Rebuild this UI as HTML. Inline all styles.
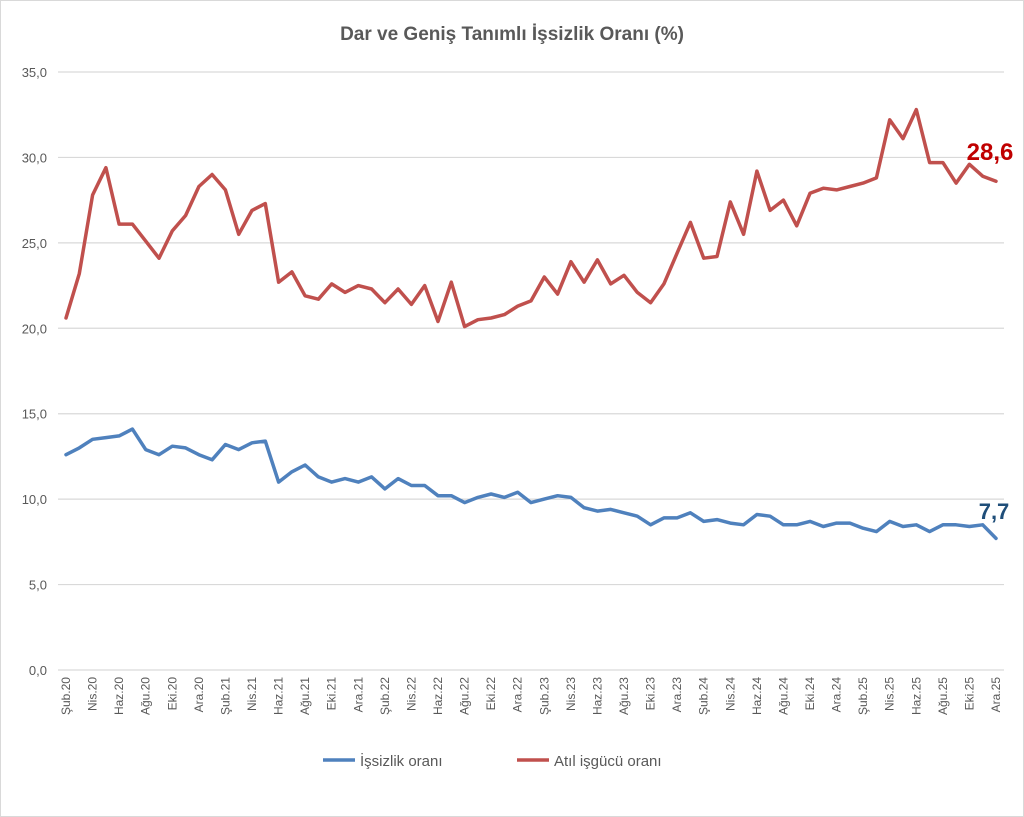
<!DOCTYPE html>
<html><head><meta charset="utf-8"><style>
body{margin:0;background:#fff;}
svg{display:block;font-family:"Liberation Sans",sans-serif;}
</style></head><body>
<svg id="c" width="1024" height="817" viewBox="0 0 1024 817" xmlns="http://www.w3.org/2000/svg">
<rect x="0.5" y="0.5" width="1023" height="816" fill="#fff" stroke="#d9d9d9"/>
<text x="512" y="40" text-anchor="middle" font-size="19" font-weight="bold" fill="#595959">Dar ve Geniş Tanımlı İşsizlik Oranı (%)</text>
<g id="grid"></g>
<g id="lab"></g>
<polyline id="red" fill="none" stroke="#c0504d" stroke-width="3.5" stroke-linejoin="round" stroke-linecap="round"/>
<polyline id="blue" fill="none" stroke="#4f81bd" stroke-width="3.5" stroke-linejoin="round" stroke-linecap="round"/>
<text x="990" y="160" text-anchor="middle" font-size="24" font-weight="bold" fill="#c00000">28,6</text>
<text x="994" y="519" text-anchor="middle" font-size="22" font-weight="bold" fill="#1f4e79">7,7</text>
<line x1="323" y1="760" x2="355" y2="760" stroke="#4f81bd" stroke-width="3.5"/>
<text x="360" y="766" font-size="15" fill="#595959">İşsizlik oranı</text>
<line x1="517" y1="760" x2="549" y2="760" stroke="#c0504d" stroke-width="3.5"/>
<text x="554" y="766" font-size="15" fill="#595959">Atıl işgücü oranı</text>
</svg>
<script>
var red=[20.6,23.2,27.8,29.4,26.1,26.1,25.1,24.1,25.7,26.6,28.3,
29.0,28.1,25.5,26.9,27.3,22.7,23.3,21.9,21.7,22.6,22.1,22.5,
22.3,21.5,22.3,21.4,22.5,20.4,22.7,20.1,20.5,20.6,20.8,21.3,
21.6,23.0,22.0,23.9,22.7,24.0,22.6,23.1,22.1,21.5,22.6,24.4,
26.2,24.1,24.2,27.4,25.5,29.2,26.9,27.5,26.0,27.9,28.2,28.1,
28.3,28.5,28.8,32.2,31.1,32.8,29.7,29.7,28.5,29.6,28.9,28.6];
var blue=[12.6,13.0,13.5,13.6,13.7,14.1,12.9,12.6,13.1,13.0,12.6,
12.3,13.2,12.9,13.3,13.4,11.0,11.6,12.0,11.3,11.0,11.2,11.0,
11.3,10.6,11.2,10.8,10.8,10.2,10.2,9.8,10.1,10.3,10.1,10.4,
9.8,10.0,10.2,10.1,9.5,9.3,9.4,9.2,9.0,8.5,8.9,8.9,
9.2,8.7,8.8,8.6,8.5,9.1,9.0,8.5,8.5,8.7,8.4,8.6,
8.6,8.3,8.1,8.7,8.4,8.5,8.1,8.5,8.5,8.4,8.5,7.7];
var x0=66,dx=(996-66)/70,y0=670,ys=(670-72)/35;
function X(i){return x0+i*dx}function Y(v){return y0-v*ys}
function pts(a){return a.map(function(v,i){return X(i).toFixed(1)+","+Y(v).toFixed(1)}).join(" ")}
document.getElementById("red").setAttribute("points",pts(red));
document.getElementById("blue").setAttribute("points",pts(blue));
var ns="http://www.w3.org/2000/svg",g=document.getElementById("grid"),l=document.getElementById("lab");
for(var k=0;k<=7;k++){var y=Y(k*5);
var ln=document.createElementNS(ns,"line");ln.setAttribute("x1",58);ln.setAttribute("x2",1004);ln.setAttribute("y1",y);ln.setAttribute("y2",y);ln.setAttribute("stroke","#d9d9d9");ln.setAttribute("stroke-width","1.2");g.appendChild(ln);
var t=document.createElementNS(ns,"text");t.setAttribute("x",47);t.setAttribute("y",y+5);t.setAttribute("text-anchor","end");t.setAttribute("font-size","13");t.setAttribute("fill","#595959");t.textContent=(k*5)+",0";l.appendChild(t);}
var mn=["Oca","Şub","Mar","Nis","May","Haz","Tem","Ağu","Eyl","Eki","Kas","Ara"];
for(var i=0;i<71;i+=2){var m=(1+i)%12,yr=20+Math.floor((1+i)/12);
var t=document.createElementNS(ns,"text");var x=X(i)+4;
t.setAttribute("transform","translate("+x+",677) rotate(-90)");t.setAttribute("text-anchor","end");t.setAttribute("font-size","12");t.setAttribute("fill","#595959");t.textContent=mn[m]+"."+yr;l.appendChild(t);}
</script>
</body></html>
